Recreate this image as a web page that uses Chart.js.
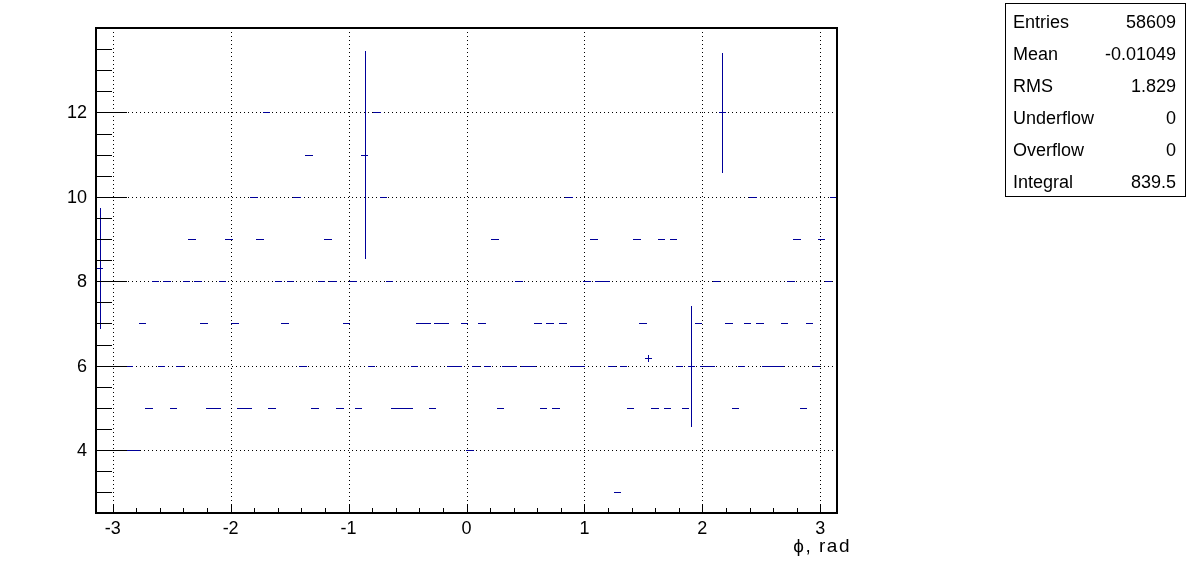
<!DOCTYPE html>
<html><head><meta charset="utf-8">
<script src="https://cdn.jsdelivr.net/npm/chart.js@4"></script>
<style>html,body{margin:0;padding:0;background:#fff;overflow:hidden}#wrap{width:1196px;height:572px}</style>
</head><body><div id="wrap"><canvas id="c" width="1196" height="572"></canvas></div>
<script>
// ---- data ----
const NBINS = 100;                       // histogram bin count (sets the bar width)
const PHI_MIN = -Math.PI, PHI_MAX = Math.PI;
// phi position (rad) of every drawn bin, grouped by content
const phi12 = [-1.696, -0.758, 2.169];
const phi11 = [-1.337, -0.864];
const phi10 = [-1.801, -1.437, -0.706, 0.869, 2.431, 3.110];
const phi9  = [-2.327, -2.014, -1.751, -1.175, 0.241, 1.080, 1.445, 1.652, 1.756, 2.804, 3.008];
const phi8  = [-2.638, -2.539, -2.375, -2.275, -2.070, -1.594, -1.490, -1.230, -1.131, -0.963, -0.651,
               0.445, 1.023, 1.120, 1.183, 2.122, 2.753, 3.068];
const phi7  = [-2.747, -2.225, -1.963, -1.538, -1.018, -0.394, -0.331, -0.243, -0.181, -0.019, 0.131,
               0.605, 0.707, 0.817, 1.495, 1.969, 2.226, 2.385, 2.487, 2.698, 2.910];
const phi6  = [-2.858, -2.585, -2.429, -1.386, -0.806, -0.443, -0.134, -0.071, 0.081, 0.180, 0.333, 0.396,
               0.492, 0.554, 0.913, 0.975, 1.235, 1.332, 1.808, 1.907, 2.013, 2.075, 2.331, 2.535, 2.597,
               2.660, 2.966];
const phi5  = [-2.692, -2.486, -2.178, -2.115, -1.914, -1.851, -1.649, -1.283, -1.073, -0.915, -0.610,
               -0.547, -0.485, -0.286, 0.288, 0.653, 0.758, 1.393, 1.597, 1.705, 1.856, 2.281, 2.859];
const phi4  = [-2.858, -2.796, 0.031];
const phi3  = [1.281];
// bins with non-integer content
const oddPhi = [-3.110, 1.543];
const oddValue = [8.31, 6.19];
// bins that show a vertical error bar: phi, content, error
const errPhi = [-3.110, -0.864, 1.907, 2.169, 1.543];
const errValue = [8.31, 11, 6, 12, 6.19];
const errSize = [1.42, 2.45, 1.42, 1.41, 0.07];

const xTickLabels = [-3, -2, -1, 0, 1, 2, 3];
const yTickLabels = [4, 6, 8, 10, 12];
const statNames = ['Entries', 'Mean', 'RMS', 'Underflow', 'Overflow', 'Integral'];
const statValues = ['58609', '-0.01049', '1.829', '0', '0', '839.5'];
const xTitle = '\u03D5, rad';

// ---- build the point table ----
const binW = (PHI_MAX - PHI_MIN) / NBINS;
const points = [];
[[phi12, 12], [phi11, 11], [phi10, 10], [phi9, 9], [phi8, 8], [phi7, 7], [phi6, 6], [phi5, 5], [phi4, 4], [phi3, 3]]
  .forEach(([arr, v]) => arr.forEach(p => points.push({ x: p, y: v, err: 0 })));
oddPhi.forEach((p, i) => points.push({ x: p, y: oddValue[i], err: 0 }));
points.forEach(pt => {
  for (let k = 0; k < errPhi.length; k++)
    if (Math.abs(errPhi[k] - pt.x) < 1e-6 && errValue[k] === pt.y) pt.err = errSize[k];
});

const MARK = '#000099';
const FONT = '"Liberation Sans", Arial, Helvetica, sans-serif';

const rootPlugin = {
  id: 'rootStyle',
  beforeDatasetsDraw(chart) {
    const { ctx, chartArea: a, scales: { x, y } } = chart;
    ctx.save();
    ctx.fillStyle = '#000';
    for (const v of xTickLabels) {
      const px = Math.round(x.getPixelForValue(v));
      for (let py = a.top; py < a.bottom; py += 4) ctx.fillRect(px, py, 1, 1);
    }
    for (const v of yTickLabels) {
      const py = Math.round(y.getPixelForValue(v));
      for (let px = a.left; px < a.right; px += 4) ctx.fillRect(px, py, 1, 1);
    }
    ctx.restore();
  },
  afterDatasetsDraw(chart) {
    const { ctx, chartArea: a, scales: { x, y } } = chart;
    ctx.save();
    ctx.fillStyle = MARK;
    for (const p of chart.data.datasets[0].data) {
      const x0 = Math.round(x.getPixelForValue(p.x - binW / 2));
      const x1 = Math.round(x.getPixelForValue(p.x + binW / 2));
      const xc = Math.round(x.getPixelForValue(p.x));
      const py = Math.round(y.getPixelForValue(p.y));
      ctx.fillRect(x0, py, x1 - x0, 1);
      if (p.err > 0) {
        const yt = Math.round(y.getPixelForValue(p.y + p.err));
        const yb = Math.round(y.getPixelForValue(p.y - p.err));
        ctx.fillRect(xc, yt, 1, yb - yt + 1);
      }
    }
    ctx.fillStyle = '#000';
    const L = Math.round(a.left), R = Math.round(a.right), T = Math.round(a.top), B = Math.round(a.bottom);
    ctx.fillRect(L - 1, T - 1, R - L + 2, 2);
    ctx.fillRect(L - 1, B - 1, R - L + 2, 2);
    ctx.fillRect(L - 1, T - 1, 2, B - T + 2);
    ctx.fillRect(R - 1, T - 1, 2, B - T + 2);
    for (let v = 3; v <= 13.5 + 1e-9; v += 0.5) {
      const py = Math.round(y.getPixelForValue(v));
      if (py < T || py > B) continue;
      const major = Math.abs(v / 2 - Math.round(v / 2)) < 1e-9;
      ctx.fillRect(L, py, major ? 31 : 16, 1);
    }
    for (let k = -15; k <= 15; k++) {
      const v = k * 0.2;
      const px = Math.round(x.getPixelForValue(v));
      if (px < L || px > R) continue;
      const len = (k % 5 === 0) ? 9 : 5;
      ctx.fillRect(px, B - len, 1, len);
    }
    ctx.font = '18px ' + FONT;
    ctx.textBaseline = 'middle';
    ctx.textAlign = 'right';
    for (const v of yTickLabels) ctx.fillText(String(v), L - 9, y.getPixelForValue(v) + 1);
    ctx.textAlign = 'center';
    ctx.textBaseline = 'alphabetic';
    for (const v of xTickLabels) ctx.fillText(String(v), x.getPixelForValue(v), B + 21);
    // axis title
    ctx.save();
    ctx.font = '19px ' + FONT;
    try { ctx.letterSpacing = '1.5px'; } catch (e) {}
    ctx.textAlign = 'right';
    ctx.fillText(xTitle, R + 14, B + 39);
    ctx.restore();
    // stats box
    const bx = 1005, by = 3, bw = 181, bh = 194;
    ctx.fillStyle = '#fff';
    ctx.fillRect(bx, by, bw, bh);
    ctx.strokeStyle = '#000';
    ctx.lineWidth = 1;
    ctx.strokeRect(bx + 0.5, by + 0.5, bw - 1, bh - 1);
    ctx.fillStyle = '#000';
    ctx.font = '18px ' + FONT;
    ctx.textBaseline = 'middle';
    for (let i = 0; i < statNames.length; i++) {
      const ty = 23 + i * 32.1;
      ctx.textAlign = 'left';
      ctx.fillText(statNames[i], 1013, ty);
      ctx.textAlign = 'right';
      ctx.fillText(statValues[i], 1176, ty);
    }
    ctx.restore();
  }
};

new Chart(document.getElementById('c'), {
  type: 'scatter',
  data: { datasets: [{ data: points, pointRadius: 0, pointHoverRadius: 0, showLine: false, borderColor: MARK, backgroundColor: MARK }] },
  options: {
    responsive: false, animation: false, devicePixelRatio: 1,
    layout: { padding: { left: 96, right: 359, top: 28, bottom: 59 } },
    plugins: { legend: { display: false }, tooltip: { enabled: false } },
    scales: {
      x: { type: 'linear', min: PHI_MIN, max: PHI_MAX, display: false },
      y: { type: 'linear', min: 2.51, max: 14.0, display: false }
    }
  },
  plugins: [rootPlugin]
});
</script></body></html>
